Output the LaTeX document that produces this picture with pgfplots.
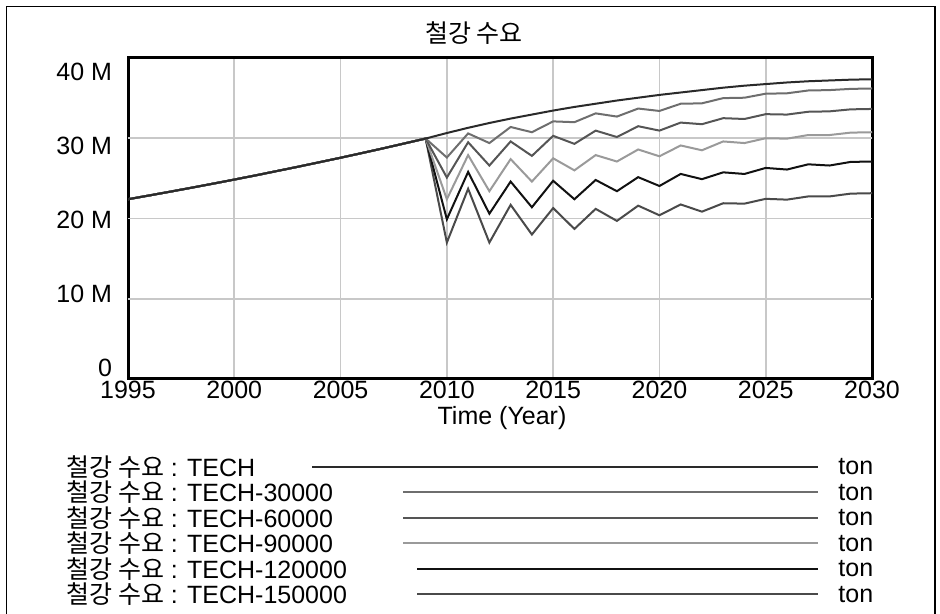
\documentclass[border=0pt]{standalone}
\usepackage{pgfplots}
\pgfplotsset{compat=1.18}
\usepackage{pgfplotstable}
\usepackage{fontspec}
\setmainfont{Liberation Sans}
\newfontfamily\kr{Noto Sans CJK KR}
\definecolor{gridc}{HTML}{C8C8C8}
\definecolor{c0}{HTML}{2A2A2A}
\definecolor{c1}{HTML}{6E6E6E}
\definecolor{c2}{HTML}{555555}
\definecolor{c3}{HTML}{9A9A9A}
\definecolor{c4}{HTML}{111111}
\definecolor{c5}{HTML}{4A4A4A}

% values in millions of tons
\pgfplotstableread{
year s0 s1 s2 s3 s4 s5
1995 22.40 22.40 22.40 22.40 22.40 22.40
1996 22.87 22.87 22.87 22.87 22.87 22.87
1997 23.35 23.35 23.35 23.35 23.35 23.35
1998 23.84 23.84 23.84 23.84 23.84 23.84
1999 24.34 24.34 24.34 24.34 24.34 24.34
2000 24.85 24.85 24.85 24.85 24.85 24.85
2001 25.37 25.37 25.37 25.37 25.37 25.37
2002 25.91 25.91 25.91 25.91 25.91 25.91
2003 26.45 26.45 26.45 26.45 26.45 26.45
2004 27.01 27.01 27.01 27.01 27.01 27.01
2005 27.57 27.57 27.57 27.57 27.57 27.57
2006 28.15 28.15 28.15 28.15 28.15 28.15
2007 28.74 28.74 28.74 28.74 28.74 28.74
2008 29.35 29.35 29.35 29.35 29.35 29.35
2009 29.96 29.96 29.96 29.96 29.96 29.96
2010 30.65 27.60 25.10 22.40 19.90 17.00
2011 31.30 30.60 29.50 27.90 25.80 23.70
2012 31.90 29.40 26.60 23.40 20.60 17.00
2013 32.45 31.40 29.60 27.40 24.60 21.70
2014 32.95 30.75 27.80 24.60 21.40 18.00
2015 33.45 32.10 30.30 27.50 24.70 21.30
2016 33.90 32.00 29.30 26.00 22.40 18.70
2017 34.30 33.10 30.95 27.90 24.80 21.20
2018 34.70 32.70 30.15 27.10 23.40 19.70
2019 35.05 33.70 31.50 28.60 25.15 21.60
2020 35.40 33.40 30.95 27.75 24.05 20.40
2021 35.70 34.30 31.95 29.10 25.55 21.75
2022 36.00 34.35 31.75 28.50 24.90 20.85
2023 36.30 35.00 32.50 29.60 25.75 21.90
2024 36.55 35.05 32.40 29.40 25.55 21.85
2025 36.75 35.55 33.00 30.00 26.30 22.45
2026 36.95 35.60 32.95 29.95 26.10 22.35
2027 37.10 35.95 33.30 30.40 26.75 22.75
2028 37.20 36.00 33.35 30.40 26.60 22.75
2029 37.30 36.15 33.60 30.70 27.05 23.10
2030 37.35 36.20 33.65 30.75 27.10 23.15
}\steel

\begin{document}
\begin{tikzpicture}[x=1pt,y=1pt]
\useasboundingbox (0,0) rectangle (470,307);
\draw[line width=0.75pt] (3.25,0) -- (3.25,303.75) -- (467.5,303.75) -- (467.5,0);
\node[font=\kr\fontsize{12.5}{14}\selectfont] at (237,290.5) {철강 수요};
\begin{axis}[
  at={(64pt,117.5pt)}, anchor=south west, scale only axis,
  width=372pt, height=160.5pt,
  xmin=1995, xmax=2030, ymin=0, ymax=40,
  xtick={1995,2000,2005,2010,2015,2020,2025,2030},
  xticklabels={1995,2000,2005,2010,2015,2020,2025,2030},
  ytick={1.37,10.6,19.8,29.03,38.25},
  yticklabels={0,10 M,20 M,30 M,40 M},
  extra y ticks={10,20,30},
  extra y tick labels={},
  extra y tick style={ymajorgrids=true, major tick length=0pt},
  xmajorgrids=true, ymajorgrids=false,
  grid style={gridc, line width=0.8pt},
  major tick length=0pt,
  axis line style={line width=1.5pt, black},
  tick label style={font=\fontsize{12.5}{14}\selectfont},
  yticklabel style={xshift=-4.5pt},
  xticklabel style={yshift=2.5pt},
  clip=true,
]
\addplot[c5, line width=1pt] table[x=year,y=s5]{\steel};
\addplot[c4, line width=1pt] table[x=year,y=s4]{\steel};
\addplot[c3, line width=1pt] table[x=year,y=s3]{\steel};
\addplot[c2, line width=1pt] table[x=year,y=s2]{\steel};
\addplot[c1, line width=1pt] table[x=year,y=s1]{\steel};
\addplot[c0, line width=1pt] table[x=year,y=s0]{\steel};
\end{axis}
\node[font=\fontsize{12.5}{14}\selectfont] at (251,98) {Time (Year)};
% legend
\begin{scope}[every node/.style={font=\fontsize{12.5}{13}\selectfont, inner sep=0pt}]
\node[anchor=west] at (33,73.5) {{\kr 철강 수요} : TECH};
\node[anchor=west] at (33,60.75) {{\kr 철강 수요} : TECH-30000};
\node[anchor=west] at (33,48) {{\kr 철강 수요} : TECH-60000};
\node[anchor=west] at (33,35.25) {{\kr 철강 수요} : TECH-90000};
\node[anchor=west] at (33,22.5) {{\kr 철강 수요} : TECH-120000};
\node[anchor=west] at (33,9.75) {{\kr 철강 수요} : TECH-150000};
\draw[c0, line width=1pt] (156,73.5) -- (409,73.5);
\draw[c1, line width=1pt] (201.5,60.75) -- (409,60.75);
\draw[c2, line width=1pt] (201.5,48) -- (409,48);
\draw[c3, line width=1pt] (201.5,35.25) -- (409,35.25);
\draw[c4, line width=1pt] (208.5,22.5) -- (409,22.5);
\draw[c5, line width=1pt] (208.5,9.75) -- (409,9.75);
\node[anchor=west] at (419,73.5) {ton};
\node[anchor=west] at (419,60.75) {ton};
\node[anchor=west] at (419,48) {ton};
\node[anchor=west] at (419,35.25) {ton};
\node[anchor=west] at (419,22.5) {ton};
\node[anchor=west] at (419,9.75) {ton};
\end{scope}
\end{tikzpicture}
\end{document}
